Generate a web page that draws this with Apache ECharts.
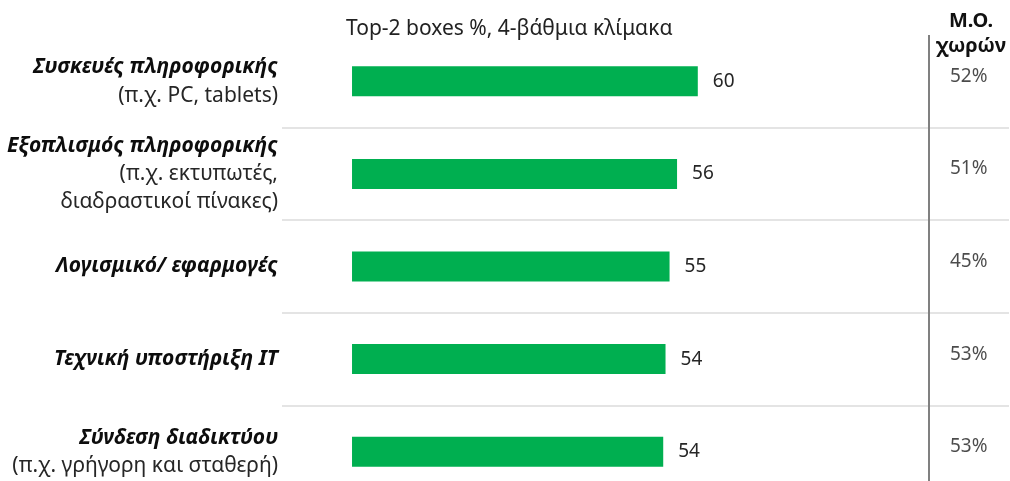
<!DOCTYPE html>
<html lang="el">
<head>
    <meta charset="UTF-8">
    <title>Top-2 boxes</title>
    <script src="https://cdn.jsdelivr.net/npm/echarts@6/dist/echarts.min.js"></script>
    <style>
        html, body { margin: 0; padding: 0; background: #fff; }
        #chart { width: 1010px; height: 481px; }
    </style>
</head>
<body>
<div id="chart"></div>
<script>
    // data
    var categories = ['Συσκευές πληροφορικής', 'Εξοπλισμός πληροφορικής', 'Λογισμικό/ εφαρμογές', 'Τεχνική υποστήριξη IT', 'Σύνδεση διαδικτύου'];
    var categoryNotes = ['(π.χ. PC, tablets)', '(π.χ. εκτυπωτές,\nδιαδραστικοί πίνακες)', '', '', '(π.χ. γρήγορη και σταθερή)'];
    var top2Values = [60.0, 56.4, 55.1, 54.4, 54.0];
    var countryAvg = [52, 51, 45, 53, 53];

    var FONT = '"Noto Sans", sans-serif';
    var AVG_COL = 107;   // x position (axis units) of the right column
    var DIVIDER = 100;   // vertical rule at 100%

    var chart = echarts.init(document.getElementById('chart'));

    var avgData = countryAvg.map(function (v, i) { return [AVG_COL, i, v]; });

    chart.setOption({
        animation: false,
        textStyle: { fontFamily: FONT },
        title: {
            text: 'Top-2 boxes %, 4-βάθμια κλίμακα',
            left: 346,
            top: 19,
            padding: 0,
            textStyle: { fontFamily: FONT, fontSize: 21, fontWeight: 'normal', color: '#222' }
        },
        graphic: [{
            type: 'text',
            x: 971,
            y: 9,
            style: {
                text: 'Μ.Ο.\nχωρών',
                font: 'bold 20px ' + FONT,
                fill: '#111',
                align: 'center',
                lineHeight: 25
            }
        }],
        grid: { left: 282, right: 1, top: 35, bottom: -17, outerBoundsMode: 'none', containLabel: false },
        xAxis: {
            type: 'value',
            min: -12.15,
            max: 114,
            show: false,
            splitLine: { show: false }
        },
        yAxis: {
            type: 'category',
            inverse: true,
            data: categories,
            axisLine: { show: false },
            axisTick: { show: false },
            splitLine: {
                show: true,
                interval: function (i) { return i > 0; },
                lineStyle: { color: '#e4e4e4', width: 2 }
            },
            axisLabel: {
                margin: 4,
                align: 'right',
                formatter: function (value, idx) {
                    var s = '{b|' + value + '}';
                    if (categoryNotes[idx]) {
                        categoryNotes[idx].split('\n').forEach(function (line) {
                            s += '\n{n|' + line + '}';
                        });
                    }
                    return s;
                },
                rich: {
                    b: { fontFamily: FONT, fontSize: 21, fontWeight: 'bold', fontStyle: 'italic', color: '#0d0d0d', lineHeight: 29, align: 'right' },
                    n: { fontFamily: FONT, fontSize: 21, color: '#262626', lineHeight: 28, align: 'right' }
                }
            }
        },
        series: [{
            type: 'bar',
            data: top2Values,
            barWidth: 30,
            itemStyle: { color: '#00AF50' },
            label: {
                show: true,
                position: 'right',
                distance: 15,
                fontFamily: FONT,
                fontSize: 19,
                color: '#262626',
                formatter: function (p) { return Math.round(p.value); }
            },
            markLine: {
                silent: true,
                symbol: 'none',
                label: { show: false },
                lineStyle: { color: '#808080', width: 2, type: 'solid' },
                data: [{ xAxis: DIVIDER }]
            }
        }, {
            type: 'scatter',
            data: avgData,
            encode: { x: 0, y: 1 },
            symbolSize: 1,
            itemStyle: { color: 'rgba(0,0,0,0)' },
            label: {
                show: true,
                position: 'inside',
                offset: [0, -5],
                fontFamily: FONT,
                fontSize: 19,
                color: '#1e1e1e',
                formatter: function (p) { return p.value[2] + '%'; }
            }
        }]
    });
</script>
</body>
</html>
